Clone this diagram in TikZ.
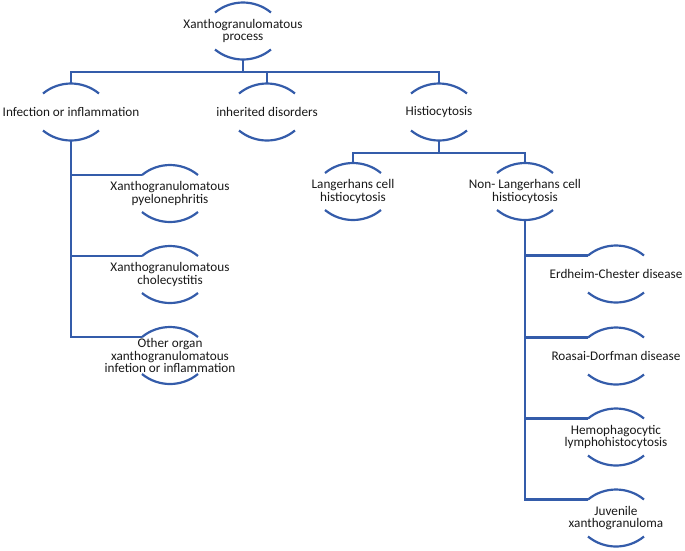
\documentclass[tikz,border=0pt]{standalone}
\usepackage{fontspec}
\setmainfont{Carlito}
\usetikzlibrary{positioning}
\definecolor{treeblue}{RGB}{52,92,170}
\definecolor{labelgray}{RGB}{25,25,25}
\tikzset{
  arcline/.style={draw=treeblue, line width=2.2pt},
  conn/.style={draw=treeblue, line width=2.2pt},
  topic/.style={
    align=center, inner sep=0pt,
    minimum height=57pt,
    text=labelgray,
    font=\fontsize{13.2}{12.8}\selectfont,
    append after command={\pgfextra{
      \draw[arcline] ([xshift=-28pt,yshift=18.5pt]\tikzlastnode.center)
        arc[start angle=129.3, end angle=50.7, radius=44.2pt];
      \draw[arcline] ([xshift=-28pt,yshift=-18.5pt]\tikzlastnode.center)
        arc[start angle=230.7, end angle=309.3, radius=44.2pt];
    }}
  },
}

\begin{document}
\begin{tikzpicture}[x=1pt, y=1pt, on grid]
  \useasboundingbox (0,0) rectangle (685,-550);

  \node[topic] (root) at (243,-31) {Xanthogranulomatous\\process};

  \node[topic, below left=81pt and 172pt of root] (infl) {Infection or inflammation};
  \node[topic, right=196pt of infl] (inher) {inherited disorders};
  \node[topic, right=172pt of inher] (histio) {Histiocytosis};

  \node[topic, below left=79.5pt and 86pt of histio] (lch) {Langerhans cell\\histiocytosis};
  \node[topic, right=172pt of lch] (nlch) {Non- Langerhans cell\\histiocytosis};

  \node[topic, below right=81.5pt and 99pt of infl] (xgp) {Xanthogranulomatous\\pyelonephritis};
  \node[topic, below=81pt of xgp] (xgc) {Xanthogranulomatous\\cholecystitis};
  \node[topic, below=81pt of xgc] (other) {Other organ\\xanthogranulomatous\\infetion or inflammation};

  \node[topic, below right=82.5pt and 91pt of nlch] (ecd) {Erdheim-Chester disease};
  \node[topic, below=82pt of ecd] (rdd) {Roasai-Dorfman disease};
  \node[topic, below=81pt of rdd] (hlh) {Hemophagocytic\\lymphohistocytosis};
  \node[topic, below=81pt of hlh] (jxg) {Juvenile\\xanthogranuloma};

  \draw[conn] (root.south) -- ++(0,-12pt) -| (infl.north);
  \draw[conn] (root.south) -- ++(0,-12pt) -| (inher.north);
  \draw[conn] (root.south) -- ++(0,-12pt) -| (histio.north);
  \draw[conn] (histio.south) -- ++(0,-12pt) -| (lch.north);
  \draw[conn] (histio.south) -- ++(0,-12pt) -| (nlch.north);

  \draw[conn] (infl.south) |- ([xshift=-28pt,yshift=18.5pt]xgp.center);
  \draw[conn] (infl.south) |- ([xshift=-28pt,yshift=18.5pt]xgc.center);
  \draw[conn] (infl.south) |- ([xshift=-28pt,yshift=18.5pt]other.center);

  \draw[conn] (nlch.south) |- ([xshift=-28pt,yshift=18.5pt]ecd.center);
  \draw[conn] (nlch.south) |- ([xshift=-28pt,yshift=18.5pt]rdd.center);
  \draw[conn] (nlch.south) |- ([xshift=-28pt,yshift=18.5pt]hlh.center);
  \draw[conn] (nlch.south) |- ([xshift=-28pt,yshift=18.5pt]jxg.center);
\end{tikzpicture}
\end{document}
